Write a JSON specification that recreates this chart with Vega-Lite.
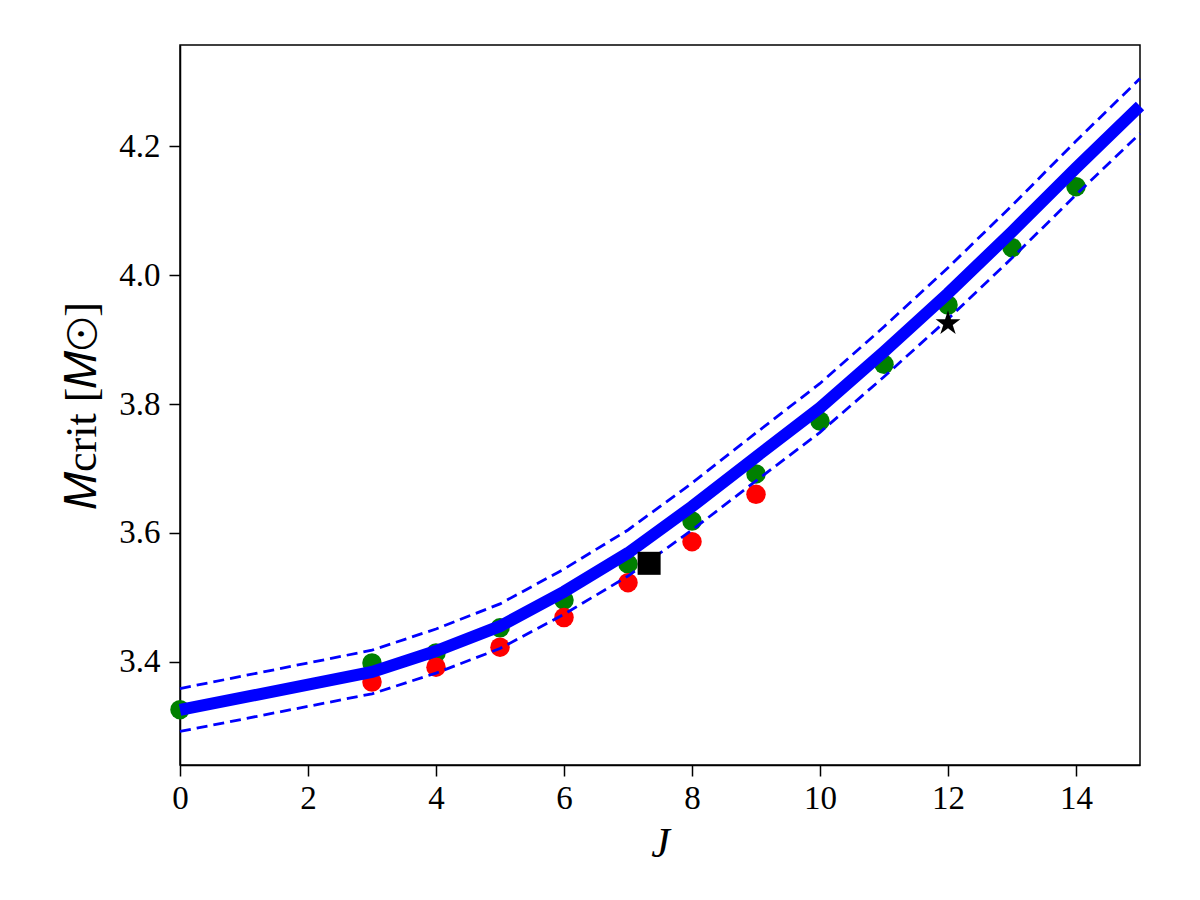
{
  "$schema": "https://vega.github.io/schema/vega-lite/v6.json",
  "width": 960,
  "height": 720,
  "autosize": {"type": "none"},
  "padding": {"left": 180, "top": 45, "right": 60, "bottom": 135},
  "config": {
    "view": {"stroke": "black", "strokeWidth": 1.5},
    "axis": {
      "labelFont": "Liberation Serif",
      "titleFont": "Liberation Serif",
      "labelFontSize": 33,
      "titleFontSize": 38,
      "titleFontWeight": "normal",
      "labelColor": "black",
      "titleColor": "black",
      "domainColor": "black",
      "domainWidth": 1.5,
      "ticks": true,
      "tickColor": "black",
      "tickWidth": 1.5,
      "tickSize": 11,
      "labelFlush": false,
      "grid": false
    }
  },
  "datasets": {
    "curve": [
      {"J": 0, "M": 3.3256, "up": 3.3588, "lo": 3.2923},
      {"J": 3, "M": 3.3845, "up": 3.4183, "lo": 3.3507},
      {"J": 4, "M": 3.417, "up": 3.4512, "lo": 3.3828},
      {"J": 5, "M": 3.4555, "up": 3.4901, "lo": 3.4209},
      {"J": 6, "M": 3.509, "up": 3.5441, "lo": 3.4739},
      {"J": 7, "M": 3.569, "up": 3.6047, "lo": 3.5333},
      {"J": 8, "M": 3.641, "up": 3.6774, "lo": 3.6046},
      {"J": 9, "M": 3.718, "up": 3.7552, "lo": 3.6808},
      {"J": 10, "M": 3.794, "up": 3.8319, "lo": 3.7561},
      {"J": 11, "M": 3.881, "up": 3.9198, "lo": 3.8422},
      {"J": 12, "M": 3.9716, "up": 4.0113, "lo": 3.9319},
      {"J": 13, "M": 4.067, "up": 4.1077, "lo": 4.0263},
      {"J": 14, "M": 4.166, "up": 4.2077, "lo": 4.1243},
      {"J": 15, "M": 4.262, "up": 4.3046, "lo": 4.2194}
    ],
    "green": [
      {"J": 0, "M": 3.326},
      {"J": 3, "M": 3.3985},
      {"J": 4, "M": 3.414},
      {"J": 5, "M": 3.453},
      {"J": 6, "M": 3.496},
      {"J": 7, "M": 3.552},
      {"J": 8, "M": 3.6186},
      {"J": 9, "M": 3.6915},
      {"J": 10, "M": 3.7736},
      {"J": 11, "M": 3.8615},
      {"J": 12, "M": 3.9535},
      {"J": 13, "M": 4.0424},
      {"J": 14, "M": 4.137}
    ],
    "red": [
      {"J": 3, "M": 3.369},
      {"J": 4, "M": 3.392},
      {"J": 5, "M": 3.423},
      {"J": 6, "M": 3.469},
      {"J": 7, "M": 3.523},
      {"J": 8, "M": 3.5865},
      {"J": 9, "M": 3.66}
    ],
    "square": [{"J": 7.33, "M": 3.553}],
    "star": [{"J": 12, "M": 3.925}]
  },
  "layer": [
    {
      "data": {"name": "green"},
      "mark": {"type": "point", "shape": "circle", "filled": true, "color": "green", "size": 380, "opacity": 1},
      "encoding": {
        "x": {
          "field": "J",
          "type": "quantitative",
          "scale": {"domain": [0, 15], "nice": false, "zero": false},
          "axis": {
            "title": "J",
            "titleFontStyle": "italic",
            "titleFontSize": 42,
            "values": [0, 2, 4, 6, 8, 10, 12, 14],
            "format": "d",
            "labelPadding": 6,
            "titlePadding": 8
          }
        },
        "y": {
          "field": "M",
          "type": "quantitative",
          "scale": {"domain": [3.2403, 4.3566], "nice": false, "zero": false},
          "axis": {
            "title": "𝑀crit [𝑀⊙]",
            "titleFontSize": 44,
            "values": [3.4, 3.6, 3.8, 4.0, 4.2],
            "format": ".1f",
            "labelPadding": 9,
            "titlePadding": 14
          }
        }
      }
    },
    {
      "data": {"name": "red"},
      "mark": {"type": "point", "shape": "circle", "filled": true, "color": "red", "size": 380, "opacity": 1},
      "encoding": {
        "x": {"field": "J", "type": "quantitative"},
        "y": {"field": "M", "type": "quantitative"}
      }
    },
    {
      "data": {"name": "curve"},
      "mark": {"type": "line", "color": "blue", "strokeWidth": 12},
      "encoding": {
        "x": {"field": "J", "type": "quantitative"},
        "y": {"field": "M", "type": "quantitative"}
      }
    },
    {
      "data": {"name": "curve"},
      "mark": {"type": "line", "color": "blue", "strokeWidth": 2.8, "strokeDash": [11, 6]},
      "encoding": {
        "x": {"field": "J", "type": "quantitative"},
        "y": {"field": "up", "type": "quantitative"}
      }
    },
    {
      "data": {"name": "curve"},
      "mark": {"type": "line", "color": "blue", "strokeWidth": 2.8, "strokeDash": [11, 6]},
      "encoding": {
        "x": {"field": "J", "type": "quantitative"},
        "y": {"field": "lo", "type": "quantitative"}
      }
    },
    {
      "data": {"name": "square"},
      "mark": {"type": "point", "shape": "square", "filled": true, "color": "black", "size": 530, "opacity": 1},
      "encoding": {
        "x": {"field": "J", "type": "quantitative"},
        "y": {"field": "M", "type": "quantitative"}
      }
    },
    {
      "data": {"name": "star"},
      "mark": {
        "type": "point",
        "shape": "M0,-1L0.2245,-0.309L0.951,-0.309L0.3633,0.118L0.588,0.809L0,0.382L-0.588,0.809L-0.3633,0.118L-0.951,-0.309L-0.2245,-0.309Z",
        "filled": true,
        "color": "black",
        "size": 680,
        "opacity": 1
      },
      "encoding": {
        "x": {"field": "J", "type": "quantitative"},
        "y": {"field": "M", "type": "quantitative"}
      }
    }
  ]
}
